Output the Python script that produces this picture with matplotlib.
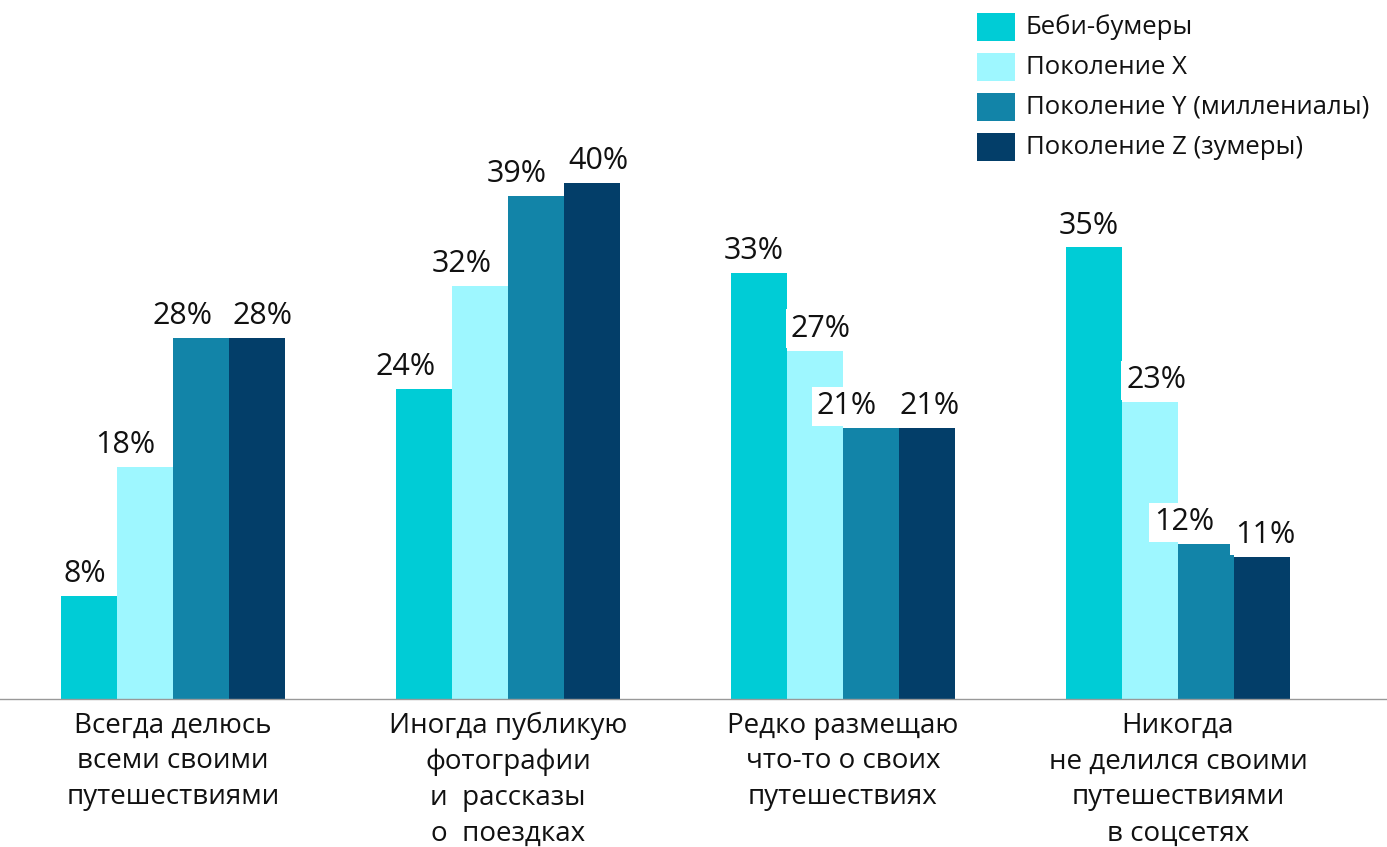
import matplotlib
matplotlib.use("Agg")
import matplotlib.pyplot as plt
from matplotlib.patches import Rectangle
import numpy as np

categories = ["Всегда делюсь\nвсеми своими\nпутешествиями",
              "Иногда публикую\nфотографии\nи  рассказы\nо  поездках",
              "Редко размещаю\nчто-то о своих\nпутешествиях",
              "Никогда\nне делился своими\nпутешествиями\nв соцсетях"]
series_names = ["Беби-бумеры", "Поколение X", "Поколение Y (миллениалы)", "Поколение Z (зумеры)"]
boomers = [8, 24, 33, 35]
gen_x = [18, 32, 27, 23]
gen_y = [28, 39, 21, 12]
gen_z = [28, 40, 21, 11]
colors = ["#00CCD6", "#9EF7FF", "#1284A8", "#033E69"]
# horizontal nudges of value labels (pixels), per series
label_dx = [[-4, -18, -5, -5],
            [-20, -18, 6, 6],
            [-18, -19, -24, -22],
            [5, 6, 3, 3]]

plt.rcParams['font.family'] = ['Open Sans', 'DejaVu Sans']

W, H = 1387, 847
fig = plt.figure(figsize=(W/100, H/100), dpi=100)
base_y = 699
ax = fig.add_axes([0, (H-base_y)/H, 1, base_y/H])
px_per_unit = 335.0
left = -173/px_per_unit
ax.set_xlim(left, left + W/px_per_unit)
ax.set_ylim(0, base_y/12.9)
for s in ax.spines.values():
    s.set_visible(False)
ax.spines['bottom'].set_visible(True)
ax.spines['bottom'].set_color('#999999')
ax.spines['bottom'].set_linewidth(1)
ax.set_xticks([]); ax.set_yticks([])

x = np.arange(len(categories))
bw = 56/px_per_unit
all_series = [boomers, gen_x, gen_y, gen_z]
for i, vals in enumerate(all_series):
    pos = x + (i - 1.5) * bw
    ax.bar(pos, vals, width=bw, color=colors[i], zorder=2)
for i, vals in enumerate(all_series):
    pos = x + (i - 1.5) * bw
    for j, (xp, v) in enumerate(zip(pos, vals)):
        ax.annotate(f"{v}%", (xp, v), xytext=(label_dx[i][j]*0.72, 5), textcoords='offset points',
                    ha='center', va='bottom', fontsize=22, color='#111111', zorder=5,
                    bbox=dict(boxstyle='square,pad=0.15', fc='white', ec='none'))

for xi, c in zip(x, categories):
    ax.annotate(c, (xi, 0), xytext=(0, -9), textcoords='offset points',
                ha='center', va='top', fontsize=20, color='#111111',
                linespacing=1.38)

# legend
for i, name in enumerate(series_names):
    cy = 27 + 40*i
    fig.patches.append(Rectangle((977/W, (H-cy-14)/H), 38/W, 28/H, transform=fig.transFigure,
                                 facecolor=colors[i], edgecolor='none'))
    fig.text(1026/W, (H-cy)/H, name, ha='left', va='center', fontsize=18.5, color='#111111')

fig.savefig("out.png", dpi=100)
